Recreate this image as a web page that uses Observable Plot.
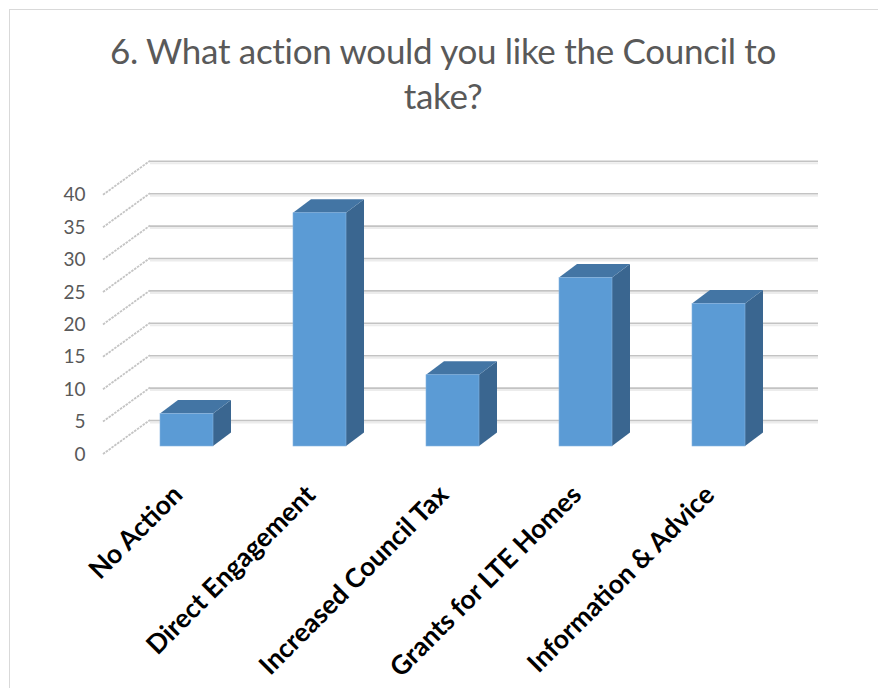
<!DOCTYPE html>
<html><head><meta charset="utf-8">
<script src="https://cdn.jsdelivr.net/npm/d3@7"></script>
<script src="https://cdn.jsdelivr.net/npm/@observablehq/plot@0.6"></script>
<style>
html,body{margin:0;padding:0;background:#fff;width:878px;height:688px;overflow:hidden;}
#frame{position:absolute;left:9px;top:9px;width:900px;height:700px;border:1.5px solid #d9d9d9;box-sizing:border-box;pointer-events:none}
#title{height:130px;box-sizing:border-box;padding-top:28px;padding-left:8px;text-align:center;font-family:Lato,sans-serif;font-size:35px;line-height:45px;color:#595959;letter-spacing:-0.3px;}
#chart svg{display:block}
</style></head>
<body>
<div id="frame"></div>
<div id="title"></div>
<div id="chart"></div>
<script>
const titleLines = ["6. What action would you like the Council to", "take?"];
const categories = ["No Action", "Direct Engagement", "Increased Council Tax", "Grants for LTE Homes", "Information & Advice"];
const values = [5, 36, 11, 26, 22];
const yTicks = [0, 5, 10, 15, 20, 25, 30, 35, 40];

const data = categories.map((c, i) => ({cat: c, value: values[i]}));

document.getElementById("title").innerHTML = titleLines.join("<br>");

// 3D geometry (pixels)
const W = 878, H = 558;
const ML = 79, MR = 52.5, MT = 56.8, MB = 242;
const WALL_IN_L = 35, WALL_IN_R = 43.5;
const FRONT = {dx: -11, dy: 8};
const BACK = {dx: 36, dy: -26};
const DEPTH = {dx: 18, dy: -13.5};

function hatchRender(index, scales, vals, dims) {
  const g = d3.create("svg:g");
  const xb = dims.marginLeft + WALL_IN_L;
  for (const i of index) {
    const y = vals.y[i];
    g.append("line")
      .attr("x1", xb + FRONT.dx).attr("y1", y + FRONT.dy)
      .attr("x2", xb + BACK.dx).attr("y2", y + BACK.dy)
      .attr("stroke", "#c4c4c4").attr("stroke-width", 1.8)
      .attr("stroke-dasharray", "2.5,1");
  }
  return g.node();
}

function facesRender(index, scales, vals, dims) {
  const bw = typeof scales.x.bandwidth === "function" ? scales.x.bandwidth()
    : (dims.width - dims.marginLeft - dims.marginRight) / 5.6 * 0.4;
  const g = d3.create("svg:g");
  for (const i of index) {
    const x0 = vals.x[i], x1 = x0 + bw;
    const yt = Math.min(vals.y1[i], vals.y2[i]), yb = Math.max(vals.y1[i], vals.y2[i]);
    g.append("path")
      .attr("d", `M${x1},${yb}L${x1},${yt}L${x1 + DEPTH.dx},${yt + DEPTH.dy}L${x1 + DEPTH.dx},${yb + DEPTH.dy}Z`)
      .attr("fill", "#3A6690");
    g.append("path")
      .attr("d", `M${x0},${yt}L${x1},${yt}L${x1 + DEPTH.dx},${yt + DEPTH.dy}L${x0 + DEPTH.dx},${yt + DEPTH.dy}Z`)
      .attr("fill", "#4375A4");
  }
  return g.node();
}

const chart = Plot.plot({
  width: W, height: H,
  marginLeft: ML, marginRight: MR, marginTop: MT, marginBottom: MB,
  style: {fontFamily: "Lato, sans-serif", fontSize: "19px", color: "#595959", background: "transparent"},
  x: {domain: categories, padding: 0.6, axis: null},
  y: {domain: [0, 40], axis: null},
  marks: [
    Plot.ruleY(yTicks, {y: d => d, insetLeft: WALL_IN_L, insetRight: WALL_IN_R, dx: BACK.dx, dy: BACK.dy + 2, stroke: "#ececec", strokeWidth: 2}),
    Plot.ruleY(yTicks, {y: d => d, insetLeft: WALL_IN_L, insetRight: WALL_IN_R, dx: BACK.dx, dy: BACK.dy, stroke: "#c3c3c3", strokeWidth: 1.6}),
    Plot.ruleY(yTicks, {y: d => d, render: hatchRender}),
    Plot.barY(data, {x: "cat", y: "value", render: facesRender}),
    Plot.barY(data, {x: "cat", y: "value", fill: "#5B9BD5", stroke: "#86b4e0", strokeWidth: 0.6}),
    Plot.text(yTicks, {y: d => d, text: d => String(d), frameAnchor: "left", textAnchor: "end", dx: 6, dy: FRONT.dy, fontSize: 19, fill: "#595959"}),
    Plot.text(data, {x: "cat", y: () => 0, text: "cat", rotate: -45, textAnchor: "end", lineAnchor: "middle", dx: -9, dy: 44, fontSize: 26.5, fontWeight: "bold", fill: "#000"})
  ]
});
document.getElementById("chart").appendChild(chart);
</script>
</body></html>
